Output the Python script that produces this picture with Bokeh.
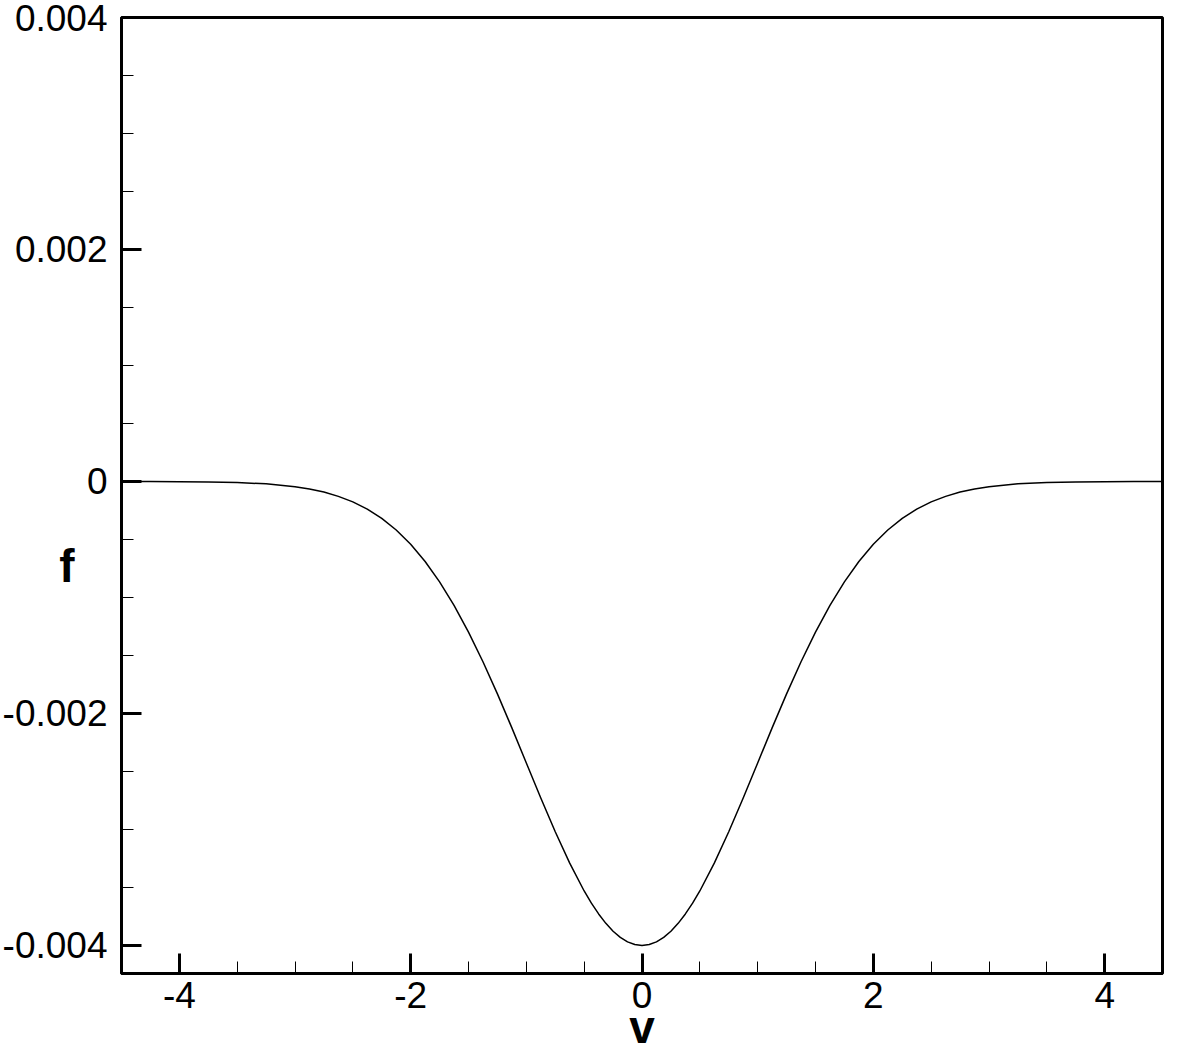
from bokeh.plotting import figure
from bokeh.models import Range1d, SingleIntervalTicker, CustomJSTickFormatter
from bokeh.embed import file_html
from bokeh.resources import INLINE

# data
v = [-4.5, -4.25, -4.0, -3.75, -3.5, -3.25, -3.0, -2.875, -2.75, -2.625, -2.5, -2.375,
     -2.25, -2.125, -2.0, -1.875, -1.75, -1.625, -1.5, -1.375, -1.25, -1.125, -1.0,
     -0.875, -0.75, -0.625, -0.5, -0.4375, -0.375, -0.3125, -0.25, -0.1875, -0.125,
     -0.0625, 0.0,
     0.0625, 0.125, 0.1875, 0.25, 0.3125, 0.375, 0.4375, 0.5, 0.625, 0.75, 0.875, 1.0,
     1.125, 1.25, 1.375, 1.5, 1.625, 1.75, 1.875, 2.0, 2.125, 2.25, 2.375, 2.5, 2.625,
     2.75, 2.875, 3.0, 3.25, 3.5, 3.75, 4.0, 4.25, 4.5]
f = [-0.0000002, -0.0000005, -0.0000013, -0.0000035, -0.0000087, -0.0000203, -0.0000444,
     -0.0000642, -0.0000912, -0.000128, -0.000176, -0.000238, -0.000318, -0.000418,
     -0.000541, -0.000690, -0.000865, -0.001068, -0.001299, -0.001554, -0.001831,
     -0.002124, -0.002426, -0.002728, -0.003019, -0.003290, -0.003530, -0.003635,
     -0.003728, -0.003809, -0.003877, -0.003930, -0.003969, -0.003992, -0.004000,
     -0.003992, -0.003969, -0.003930, -0.003877, -0.003809, -0.003728, -0.003635,
     -0.003530, -0.003290, -0.003019, -0.002728, -0.002426, -0.002124, -0.001831,
     -0.001554, -0.001299, -0.001068, -0.000865, -0.000690, -0.000541, -0.000418,
     -0.000318, -0.000238, -0.000176, -0.000128, -0.0000912, -0.0000642, -0.0000444,
     -0.0000203, -0.0000087, -0.0000035, -0.0000013, -0.0000005, -0.0000002]
x_title = "v"
y_title = "f"

X0, X1 = -4.5, 4.5
Y0, Y1 = -0.0042414, 0.004

p = figure(width=1177, height=1056, x_range=Range1d(X0, X1), y_range=Range1d(Y0, Y1),
           output_backend="svg", toolbar_location=None,
           min_border_left=121, min_border_right=15, min_border_top=17, min_border_bottom=83)
p.title.visible = False
p.grid.visible = False
p.background_fill_color = "white"
p.border_fill_color = "white"
p.outline_line_color = "black"
p.outline_line_width = 3
p.outline_line_alpha = 1

p.line(v, f, line_color="black", line_width=1.5, line_join="round")

FONT = "Liberation Sans"
p.xaxis.ticker = SingleIntervalTicker(interval=2, num_minor_ticks=4)
p.yaxis.ticker = SingleIntervalTicker(interval=0.002, num_minor_ticks=4)
p.xaxis.formatter = CustomJSTickFormatter(code="return Math.abs(tick) < 1e-9 ? '0' : tick.toFixed(0);")
p.yaxis.formatter = CustomJSTickFormatter(code="return Math.abs(tick) < 1e-12 ? '0' : tick.toFixed(3);")

for ax in (p.xaxis[0], p.yaxis[0]):
    ax.axis_line_width = 3
    ax.axis_line_color = "black"
    ax.major_tick_in = 20
    ax.major_tick_out = 0
    ax.minor_tick_in = 12
    ax.minor_tick_out = 0
    ax.major_tick_line_width = 3
    ax.minor_tick_line_width = 1
    ax.major_tick_line_color = "black"
    ax.minor_tick_line_color = "black"
    ax.major_label_text_font = FONT
    ax.major_label_text_font_size = "37px"
    ax.major_label_text_color = "black"
    ax.axis_label_text_font = FONT
    ax.axis_label_text_font_style = "bold"
    ax.axis_label_text_font_size = "46px"
    ax.axis_label_text_color = "black"

p.yaxis.major_label_standoff = 14
p.xaxis.major_label_standoff = 8

p.xaxis.axis_label = x_title
p.xaxis.axis_label_standoff = -10

p.yaxis.axis_label = "\n\n" + y_title
p.yaxis.axis_label_orientation = "horizontal"
p.yaxis.axis_label_text_line_height = 1.35
p.yaxis.axis_label_standoff = -75

open("out.html", "w").write(file_html(p, INLINE))
